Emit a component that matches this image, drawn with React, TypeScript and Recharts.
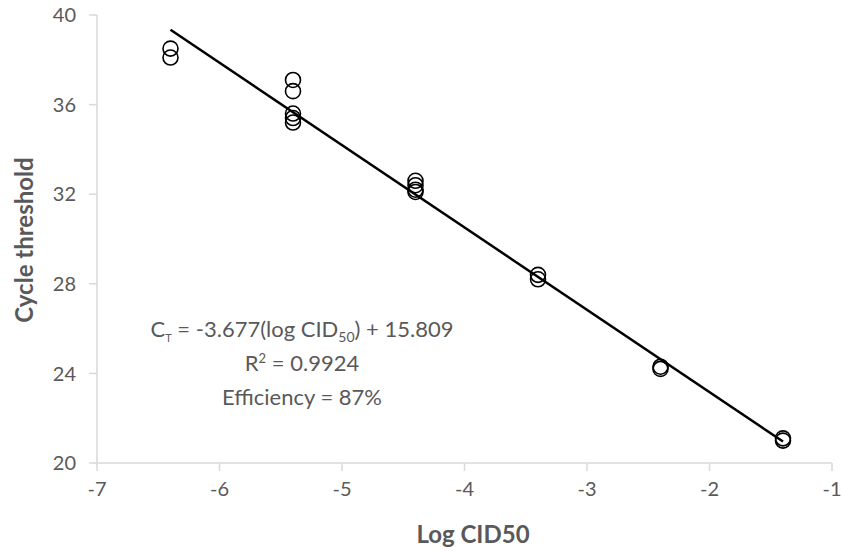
import React from 'react';
import { ScatterChart, Scatter, XAxis, YAxis } from 'recharts';

const logCid50 = [-6.4, -6.4, -5.4, -5.4, -5.4, -5.4, -5.4, -4.4, -4.4, -4.4, -4.4, -3.4, -3.4, -2.4, -2.4, -1.4, -1.4];
const cycleThreshold = [38.5, 38.1, 37.1, 36.6, 35.6, 35.4, 35.2, 32.6, 32.4, 32.2, 32.1, 28.4, 28.2, 24.3, 24.2, 21.1, 21.0];
const xTicks = [-7, -6, -5, -4, -3, -2, -1];
const yTicks = [20, 24, 28, 32, 36, 40];
const slope = -3.677;
const intercept = 15.809;
const fitRange = [-6.4, -1.4];

const points = logCid50.map((x, i) => ({ x, y: cycleThreshold[i] }));
const fitLine = fitRange.map((x) => ({ x, y: slope * x + intercept }));

const FONT = 'Lato, "Liberation Sans", sans-serif';
const GRAY = '#595959';
const AXIS = '#d9d9d9';

const OpenCircle = (props: any) => {
  const { cx, cy } = props;
  if (cx == null || cy == null) return null;
  return <circle cx={cx} cy={cy} r={7.5} fill="none" stroke="#000" strokeWidth={1.6} />;
};

const NoShape = () => null;

const subStyle = (size: number, shift: number): React.CSSProperties => ({
  fontSize: size,
  position: 'relative',
  top: shift,
  lineHeight: 0,
});

export default function App() {
  return (
    <div style={{ position: 'absolute', left: 0, top: 0, width: 843, height: 551, background: '#fff', fontFamily: FONT }}>
      <ScatterChart width={843} height={551} margin={{ top: 15, right: 11, left: 0, bottom: 0 }}>
        <XAxis
          type="number"
          dataKey="x"
          domain={[-7, -1]}
          ticks={xTicks}
          allowDataOverflow
          height={88}
          axisLine={{ stroke: AXIS, strokeWidth: 1.5 }}
          tickLine={{ stroke: AXIS, strokeWidth: 1.5 }}
          tickSize={8}
          tickMargin={11}
          tick={{ fill: GRAY, fontSize: 20, fontFamily: FONT }}
        />
        <YAxis
          type="number"
          dataKey="y"
          domain={[20, 40]}
          ticks={yTicks}
          allowDataOverflow
          width={97}
          axisLine={{ stroke: AXIS, strokeWidth: 1.5 }}
          tickLine={{ stroke: AXIS, strokeWidth: 1.5 }}
          tickSize={8}
          tickMargin={13}
          tick={{ fill: GRAY, fontSize: 20, fontFamily: FONT }}
        />
        <Scatter data={fitLine} line={{ stroke: '#000', strokeWidth: 2.5 }} shape={NoShape} isAnimationActive={false} />
        <Scatter data={points} shape={OpenCircle} isAnimationActive={false} />
      </ScatterChart>
      <div style={{ position: 'absolute', left: 23, top: 240, transform: 'translate(-50%, -50%) rotate(-90deg)', whiteSpace: 'nowrap', fontWeight: 700, fontSize: 24, color: GRAY }}>
        Cycle threshold
      </div>
      <div style={{ position: 'absolute', left: 473, top: 533, transform: 'translate(-50%, -50%)', whiteSpace: 'nowrap', fontWeight: 700, fontSize: 24, color: GRAY }}>
        Log CID50
      </div>
      <div style={{ position: 'absolute', left: 302, top: 312, transform: 'translateX(-50%)', textAlign: 'center', whiteSpace: 'nowrap', fontSize: 22, lineHeight: '34px', color: GRAY }}>
        <div>C<span style={subStyle(11, 5)}>T</span> = -3.677(log CID<span style={subStyle(14, 5)}>50</span>) + 15.809</div>
        <div>R<span style={subStyle(13, -8)}>2</span> = 0.9924</div>
        <div>Efficiency = 87%</div>
      </div>
    </div>
  );
}
